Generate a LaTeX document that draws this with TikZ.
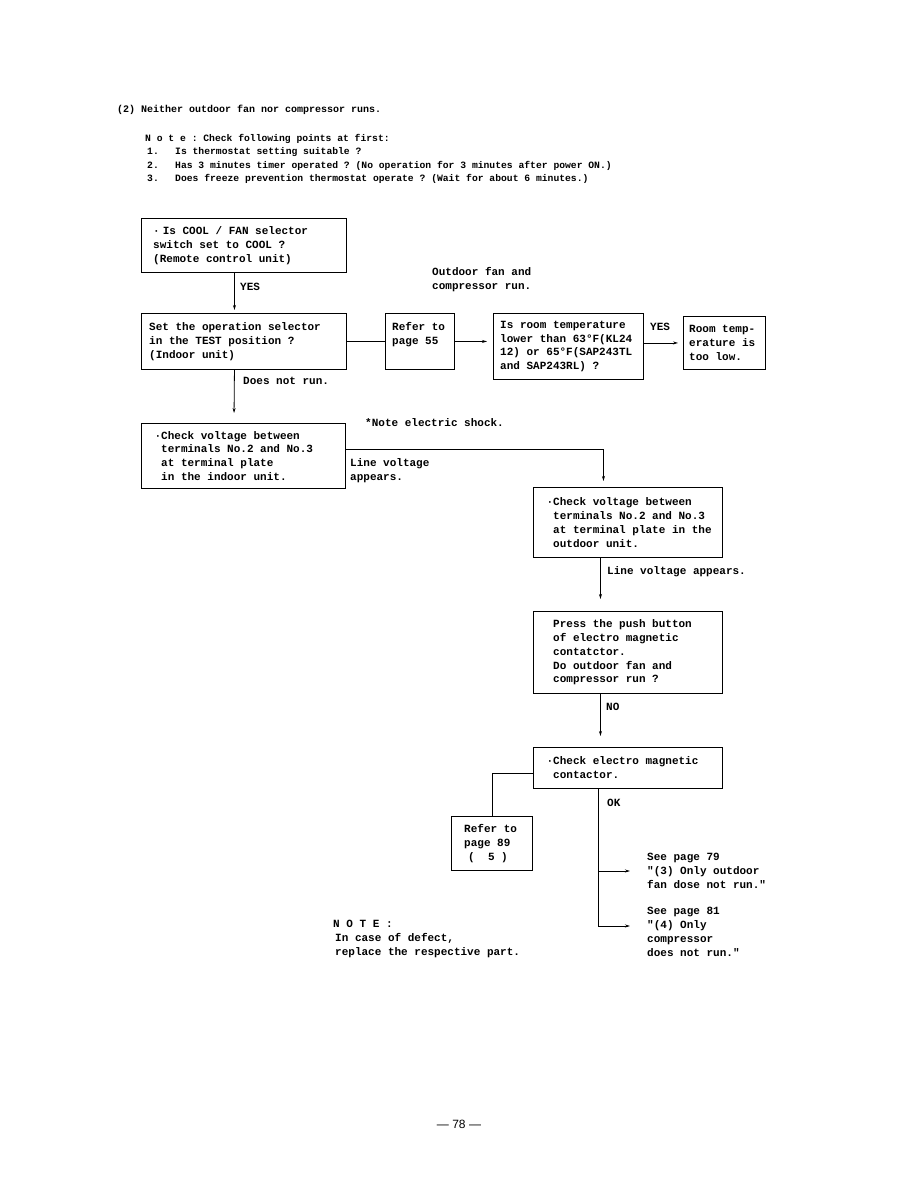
\documentclass[tikz,border=0pt]{standalone}
\usepackage{fontspec}
\setmonofont{Liberation Mono}
\newfontfamily\pagenofont{Liberation Sans}
\usetikzlibrary{arrows.meta,calc,positioning}
\newcommand{\boxfont}{\ttfamily\bfseries\fontsize{11}{13.8}\selectfont}
\newcommand{\headfont}{\ttfamily\bfseries\fontsize{9.7}{13.4}\selectfont}
\newcommand{\bul}{\llap{·}}
\newcommand{\itm}[1]{\hspace*{2pt}\makebox[28pt][l]{#1}}
\tikzset{
  frame/.style={draw,line width=0.9pt,inner sep=0pt,anchor=north west},
  txt/.style={font=\boxfont,align=left,inner sep=0pt,anchor=west},
  lbl/.style={font=\boxfont,align=left,inner sep=0pt,anchor=west},
  arr/.style={line width=0.8pt,-{Stealth[length=5pt,width=3pt]}},
  wire/.style={line width=0.8pt}
}

\begin{document}
\begin{tikzpicture}[x=1pt,y=-1pt]
\useasboundingbox (0,0) rectangle (918,1188);
% heading
\node[font=\ttfamily\bfseries\fontsize{10}{12}\selectfont,inner sep=0pt,anchor=west] (title) at (117,110) {(2) Neither outdoor fan nor compressor runs.};
\node[font=\headfont,align=left,inner sep=0pt,anchor=west] (notes) at (145,159) {N o t e : Check following points at first:\\
\itm{1.}Is thermostat setting suitable ?\\
\itm{2.}Has 3 minutes timer operated ? (No operation for 3 minutes after power ON.)\\
\itm{3.}Does freeze prevention thermostat operate ? (Wait for about 6 minutes.)};
% boxes: top-left corner, size in px
\node[frame,minimum width=205pt,minimum height=54pt] (cool) at (141,218) {};
\node[txt] (cooltx) at ([xshift=12pt]cool.west) {·\hspace{3pt}Is COOL / FAN selector\\switch set to COOL ?\\(Remote control unit)};
\node[frame,minimum width=205pt,minimum height=56pt] (testpos) at (141,313) {};
\node[txt] (testpostx) at ([xshift=8pt]testpos.west) {Set the operation selector\\in the TEST position ?\\(Indoor unit)};
\node[frame,minimum width=69pt,minimum height=56pt] (page55) at (385,313) {};
\node[txt] (page55tx) at ([xshift=7pt,yshift=7pt]page55.west) {Refer to\\page 55};
\node[frame,minimum width=150pt,minimum height=66pt] (roomtemp) at (493,313) {};
\node[txt] (roomtemptx) at ([xshift=7pt]roomtemp.west) {Is room temperature\\lower than 63°F(KL24\\12) or 65°F(SAP243TL\\and SAP243RL) ?};
\node[frame,minimum width=82pt,minimum height=53pt] (toolow) at (683,316) {};
\node[txt] (toolowtx) at ([xshift=6pt]toolow.west) {Room temp-\\erature is\\too low.};
\node[frame,minimum width=204pt,minimum height=65pt] (indoorv) at (141,423) {};
\node[txt] (indoorvtx) at ([xshift=20pt]indoorv.west) {\bul Check voltage between\\terminals No.2 and No.3\\at terminal plate\\in the indoor unit.};
\node[frame,minimum width=189pt,minimum height=70pt] (outdoorv) at (533,487) {};
\node[txt] (outdoorvtx) at ([xshift=20pt]outdoorv.west) {\bul Check voltage between\\terminals No.2 and No.3\\at terminal plate in the\\outdoor unit.};
\node[frame,minimum width=189pt,minimum height=82pt] (pushbtn) at (533,611) {};
\node[txt] (pushbtntx) at ([xshift=20pt]pushbtn.west) {Press the push button\\of electro magnetic\\contatctor.\\Do outdoor fan and\\compressor run ?};
\node[frame,minimum width=189pt,minimum height=41pt] (contactor) at (533,747) {};
\node[txt] (contactortx) at ([xshift=20pt]contactor.west) {\bul Check electro magnetic\\contactor.};
\node[frame,minimum width=81pt,minimum height=54pt] (page89) at (451,816) {};
\node[txt] (page89tx) at ([xshift=13pt]page89.west) {Refer to\\page 89\\\hspace*{4pt}(~~5~)};
% labels
\node[lbl] (runlbl) at (432,279.5) {Outdoor fan and\\compressor run.};
\node[lbl] (yes1) at (240,287) {YES};
\node[lbl] (yes2) at (650,327) {YES};
\node[lbl] (norun) at (243,381) {Does not run.};
\node[lbl] (shock) at (365,423) {*Note electric shock.};
\node[lbl] (linev1) at (350,470.5) {Line voltage\\appears.};
\node[lbl] (linev2) at (607,572) {Line voltage appears.};
\node[lbl] (nolbl) at (606,707) {NO};
\node[lbl] (oklbl) at (607,803) {OK};
\node[lbl] (see79) at (647,871) {See page 79\\"(3) Only outdoor\\fan dose not run."};
\node[lbl] (see81) at (647,932) {See page 81\\"(4) Only\\compressor\\does not run."};
\node[lbl] (notelbl) at (333,939) {N O T E :\\\hspace*{2pt}In case of defect,\\\hspace*{2pt}replace the respective part.};
\node[font=\pagenofont\fontsize{12}{14}\selectfont,inner sep=0pt] (pageno) at (459,1124) {— 78 —};
% connectors
\draw[arr,shorten >=3pt] ([xshift=-9.5pt]cool.south) -- ([xshift=-9.5pt]testpos.north);
\draw[wire] (testpos.east) -- (page55.west);
\draw[arr,shorten >=6pt] (page55.east) -- (page55.east -| roomtemp.west);
\draw[arr,shorten >=5pt] (toolow.west -| roomtemp.east) -- (toolow.west);
\draw[arr,shorten >=10pt] ([xshift=-9.5pt]testpos.south) -- ([xshift=-9.5pt]indoorv.north);
\draw[arr,shorten >=6pt] ([yshift=6.5pt]indoorv.east) -| ([xshift=-24.5pt]outdoorv.north);
\draw[arr,shorten >=12pt] ([xshift=-27.5pt]outdoorv.south) -- ([xshift=-27.5pt]pushbtn.north);
\draw[arr,shorten >=11pt] ([xshift=-27.5pt]pushbtn.south) -- ([xshift=-27.5pt]contactor.north);
\draw[wire] ([yshift=-5.5pt]contactor.west) -| (page89.north);
\draw[arr,shorten >=3pt] ([xshift=-30pt]contactor.south) |- ([xshift=-14pt]see79.west);
\draw[arr,shorten >=3pt] ([xshift=-30pt]contactor.south) |- ([xshift=-14pt,yshift=6pt]see81.west);
\end{tikzpicture}
\end{document}
